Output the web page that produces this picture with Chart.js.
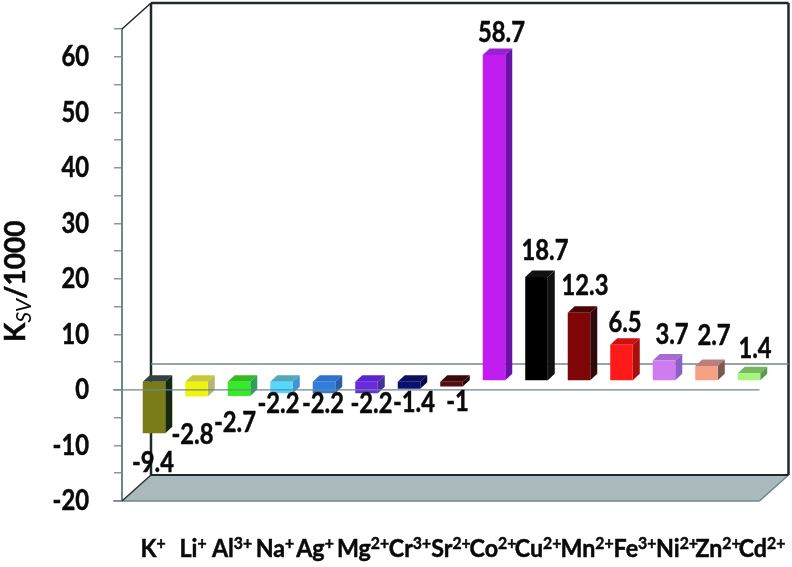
<!DOCTYPE html>
<html>
<head>
<meta charset="utf-8">
<title>KSV/1000</title>
<script src="https://cdn.jsdelivr.net/npm/chart.js@4"></script>
<style>
    html, body { margin: 0; padding: 0; background: #fff; }
    canvas { display: block; }
</style>
</head>
<body>
<canvas id="myChart" width="792" height="567"></canvas>
<script>
// DONNEES

const labels = ['K+', 'Li+', 'Al3+', 'Na+', 'Ag+', 'Mg2+', 'Cr3+', 'Sr2+', 'Co2+', 'Cu2+', 'Mn2+', 'Fe3+', 'Ni2+', 'Zn2+', 'Cd2+'];
const ksvValues = [-9.4, -2.8, -2.7, -2.2, -2.2, -2.2, -1.4, -1, 58.7, 18.7, 12.3, 6.5, 3.7, 2.7, 1.4];

const frontColors = ['#7a7d17', '#eef50a', '#33ee22', '#55d8ff', '#2f7ddc', '#6a2be0', '#0a0f70', '#5a0c0c', '#c11df0', '#000000', '#7f0606', '#ff1a1a', '#cf7cf2', '#f5a184', '#a5f57a'];
const topColors = ['#33423f', '#c8c83c', '#33bb22', '#4fa9b8', '#2f73cc', '#5a25cc', '#0a0f60', '#3a0a0a', '#9a20d0', '#111111', '#4a0606', '#d01010', '#a86cd0', '#b98080', '#7ab860'];
const sideColors = ['#15290f', '#b5b76a', '#2f9f5a', '#3f94d8', '#2a5fa8', '#46309a', '#060a45', '#2a0505', '#6a10a8', '#111111', '#2e0a0a', '#a80f0f', '#8a5fc8', '#7a5a50', '#5a9a50'];

// decalage des etiquettes par rapport au haut de la barre
const labelDx = [-1, -4, -4, -3, -1, 5, 5, 6, 7.5, 8.5, 6, 3.5, 8, 7.5, 6];
const labelDy = [30, 38, 27, 10, 10, 10, 14, 15, -22, -26, -27, -22, -26, -30, -25];
// decalage des noms d'ions par rapport au centre de la barre
const ionDx = [-1, -3.5, -7, -6.5, -9, -3.5, 1, -0.5, -1, 1.5, 8, 13.5, 13, 11.5, 13];

const depthX = 29, depthY = 26;        // profondeur du cadre
const barDepthX = 7, barDepthY = 6.5;  // profondeur des barres
const barShiftX = 10.75, barShiftY = -9;
const font = '"Lato", "Open Sans", sans-serif';
const axisGrey = '#6f8690';
const textColor = '#0a0a0a';

function line(ctx, x1, y1, x2, y2, color, width) {
    ctx.strokeStyle = color;
    ctx.lineWidth = width;
    ctx.beginPath();
    ctx.moveTo(x1, y1);
    ctx.lineTo(x2, y2);
    ctx.stroke();
}

function poly(ctx, pts, color) {
    ctx.fillStyle = color;
    ctx.beginPath();
    pts.forEach((p, i) => i ? ctx.lineTo(p[0], p[1]) : ctx.moveTo(p[0], p[1]));
    ctx.closePath();
    ctx.fill();
}

// texte un peu plus gras que la police
function boldText(ctx, text, x, y) {
    ctx.fillStyle = textColor;
    ctx.strokeStyle = textColor;
    ctx.lineWidth = 0.5;
    ctx.fillText(text, x, y);
    ctx.strokeText(text, x, y);
}

// texte condense centre (chiffres)
function drawNumber(ctx, text, x, y, align) {
    ctx.save();
    ctx.translate(x, y);
    ctx.scale(0.82, 1);
    ctx.font = '700 29px ' + font;
    ctx.textBaseline = 'middle';
    ctx.textAlign = align;
    boldText(ctx, text, 0, 0);
    ctx.restore();
}

// ion avec exposant
function drawIon(ctx, label, x, y) {
    const m = label.match(/^([A-Za-z]+)(.*)$/);
    ctx.save();
    ctx.translate(x, y);
    ctx.scale(0.93, 1);
    ctx.textBaseline = 'alphabetic';
    ctx.textAlign = 'left';
    ctx.font = '700 25px ' + font;
    const w1 = ctx.measureText(m[1]).width;
    ctx.font = '700 17px ' + font;
    const w2 = ctx.measureText(m[2]).width;
    const start = -(w1 + w2) / 2;
    boldText(ctx, m[2], start + w1, -8);
    ctx.font = '700 25px ' + font;
    boldText(ctx, m[1], start, 0);
    ctx.restore();
}

const frame3d = {
    id: 'frame3d',
    beforeDatasetsDraw(chart) {
        const { ctx, chartArea: a, scales } = chart;
        const zero = scales.y.getPixelForValue(0);
        ctx.save();
        // sol
        poly(ctx, [[a.left, a.bottom], [a.left + depthX, a.bottom - depthY], [a.right + depthX, a.bottom - depthY], [a.right, a.bottom]], '#aab9bc');
        line(ctx, a.left - 9, a.bottom, a.right, a.bottom, axisGrey, 1.5);
        line(ctx, a.right, a.bottom, a.right + depthX, a.bottom - depthY, axisGrey, 1.5);
        line(ctx, a.left, a.bottom, a.left + depthX, a.bottom - depthY, '#2b3438', 1.5);
        // fond
        line(ctx, a.left + depthX, a.top - depthY, a.left + depthX, a.bottom - depthY, '#20282c', 2.5);
        line(ctx, a.left + depthX, a.top - depthY, a.right + depthX, a.top - depthY, '#20282c', 2.5);
        line(ctx, a.right + depthX, a.top - depthY, a.right + depthX, a.bottom - depthY, '#20282c', 2.5);
        line(ctx, a.left + depthX, a.bottom - depthY, a.right + depthX, a.bottom - depthY, '#20282c', 2);
        line(ctx, a.left, a.top, a.left + depthX, a.top - depthY, '#20282c', 1.5);
        line(ctx, a.left + depthX, zero - depthY, a.right + depthX, zero - depthY, axisGrey, 1.5);
        ctx.restore();
        // faces des barres
        ctx.save();
        ctx.translate(barShiftX, barShiftY);
        chart.getDatasetMeta(0).data.forEach((bar, i) => {
            const l = bar.x - bar.width / 2, r = bar.x + bar.width / 2;
            const t = Math.min(bar.y, bar.base), b = Math.max(bar.y, bar.base);
            poly(ctx, [[l, t], [l + barDepthX, t - barDepthY], [r + barDepthX, t - barDepthY], [r, t]], topColors[i]);
            poly(ctx, [[r, t], [r + barDepthX, t - barDepthY], [r + barDepthX, b - barDepthY], [r, b]], sideColors[i]);
        });
    },
    afterDatasetsDraw(chart) {
        const { ctx, chartArea: a, scales } = chart;
        ctx.restore();
        const zero = scales.y.getPixelForValue(0);
        line(ctx, a.left - 9, zero, a.right, zero, axisGrey, 1.2);
        // graduations de l'axe
        scales.y.ticks.forEach((tick, i) => {
            if (tick.value % 10 === 0) {
                drawNumber(ctx, String(tick.value), 89, scales.y.getPixelForTick(i), 'right');
            }
        });
        // valeurs
        chart.getDatasetMeta(0).data.forEach((bar, i) => {
            drawNumber(ctx, String(ksvValues[i]), bar.x + barShiftX + labelDx[i], bar.y + barShiftY + labelDy[i], 'center');
        });
        // etiquettes des ions
        labels.forEach((label, i) => {
            drawIon(ctx, label, scales.x.getPixelForValue(i) + barShiftX + ionDx[i], 557);
        });
        // titre de l'axe
        ctx.save();
        ctx.translate(25, 342);
        ctx.rotate(-Math.PI / 2);
        ctx.scale(0.97, 1);
        ctx.textAlign = 'left';
        ctx.textBaseline = 'alphabetic';
        ctx.font = '700 29px ' + font;
        boldText(ctx, 'K', 0, 0);
        let w = ctx.measureText('K').width;
        ctx.font = 'italic 400 22px ' + font;
        ctx.fillStyle = textColor;
        ctx.fillText('SV', w, 6);
        w += ctx.measureText('SV').width;
        ctx.font = '700 29px ' + font;
        boldText(ctx, '/1000', w, 0);
        ctx.restore();
    }
};

const data = {
    labels: labels,
    datasets: [{
        label: 'KSV/1000',
        data: ksvValues,
        backgroundColor: frontColors,
        borderWidth: 0,
        categoryPercentage: 1,
        barPercentage: 0.53,
    }]
};

const config = {
    type: 'bar',
    data: data,
    plugins: [frame3d],
    options: {
        responsive: false,
        animation: false,
        layout: { padding: { top: 29, right: 32.5, bottom: 66, left: 0 } },
        plugins: {
            legend: { display: false },
            tooltip: { enabled: false }
        },
        scales: {
            x: {
                grid: { display: false },
                border: { display: false },
                ticks: { display: false },
                afterFit: (scale) => { scale.height = 0; }
            },
            y: {
                min: -20,
                max: 65,
                afterFit: (scale) => { scale.width = 122; },
                grid: { drawOnChartArea: false, color: '#8a979c', tickLength: 8, lineWidth: 1.5 },
                border: { color: axisGrey, width: 2 },
                ticks: {
                    display: false,
                    stepSize: 5,
                    includeBounds: false
                }
            }
        }
    }
};

const myChart = new Chart(document.getElementById('myChart'), config);
</script>
</body>
</html>
